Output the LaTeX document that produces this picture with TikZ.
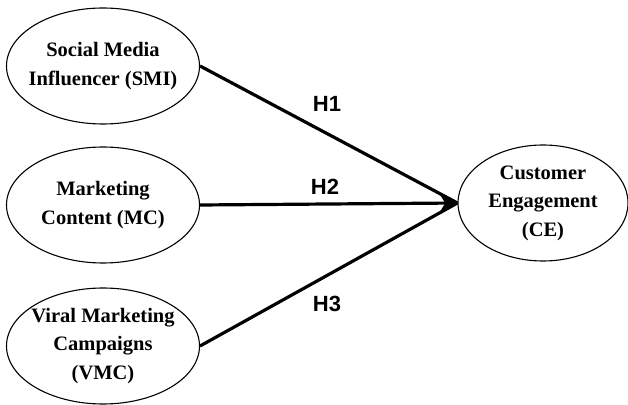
\documentclass[tikz,border=0pt]{standalone}
\usepackage{fontspec}
\setmainfont{Liberation Serif}
\newfontfamily\hfont{Liberation Sans}
\usepackage{tikz}
\usetikzlibrary{shapes.geometric}
\usetikzlibrary{arrows.meta}
\newcommand{\varnode}[5]{\node[shape=ellipse,draw,line width=1.1pt,inner xsep=-10pt,inner ysep=-6pt,minimum width=#4pt,minimum height=116pt,align=center,font=\bfseries\fontsize{20.5}{28.5}\selectfont] (#1) at ( #2 , #3 ) {#5};}
\newcommand{\hyplabel}[3]{\node[draw=none,fill=none,inner sep=0pt,font=\hfont\bfseries\fontsize{22}{22}\selectfont] at ( #1 , #2 ) {#3};}

\begin{document}
\begin{tikzpicture}[x=1pt,y=1pt]
        \useasboundingbox (0,0) rectangle (628,404);
        % independent variables
        \varnode{SMI}{103}{338}{193}{Social Media\\Influencer (SMI)}
        \varnode{MC}{103}{199}{193}{Marketing\\Content (MC)}
        \varnode{VMC}{103}{58}{193}{Viral Marketing\\Campaigns\\(VMC)}
        % dependent variable
        \varnode{CE}{543}{201}{170}{Customer\\Engagement\\(CE)}

        % paths
        \draw[line width=3.2pt] (SMI.east) -- (CE.west);
        \draw[line width=3.2pt,-{Stealth[length=18pt,width=19pt]}] (MC.east) -- (CE.west);
        \draw[line width=3.2pt] (VMC.east) -- (CE.west);

        % hypotheses
        \hyplabel{327}{300}{H1}
        \hyplabel{325}{217}{H2}
        \hyplabel{327}{100}{H3}
    \end{tikzpicture}
\end{document}
